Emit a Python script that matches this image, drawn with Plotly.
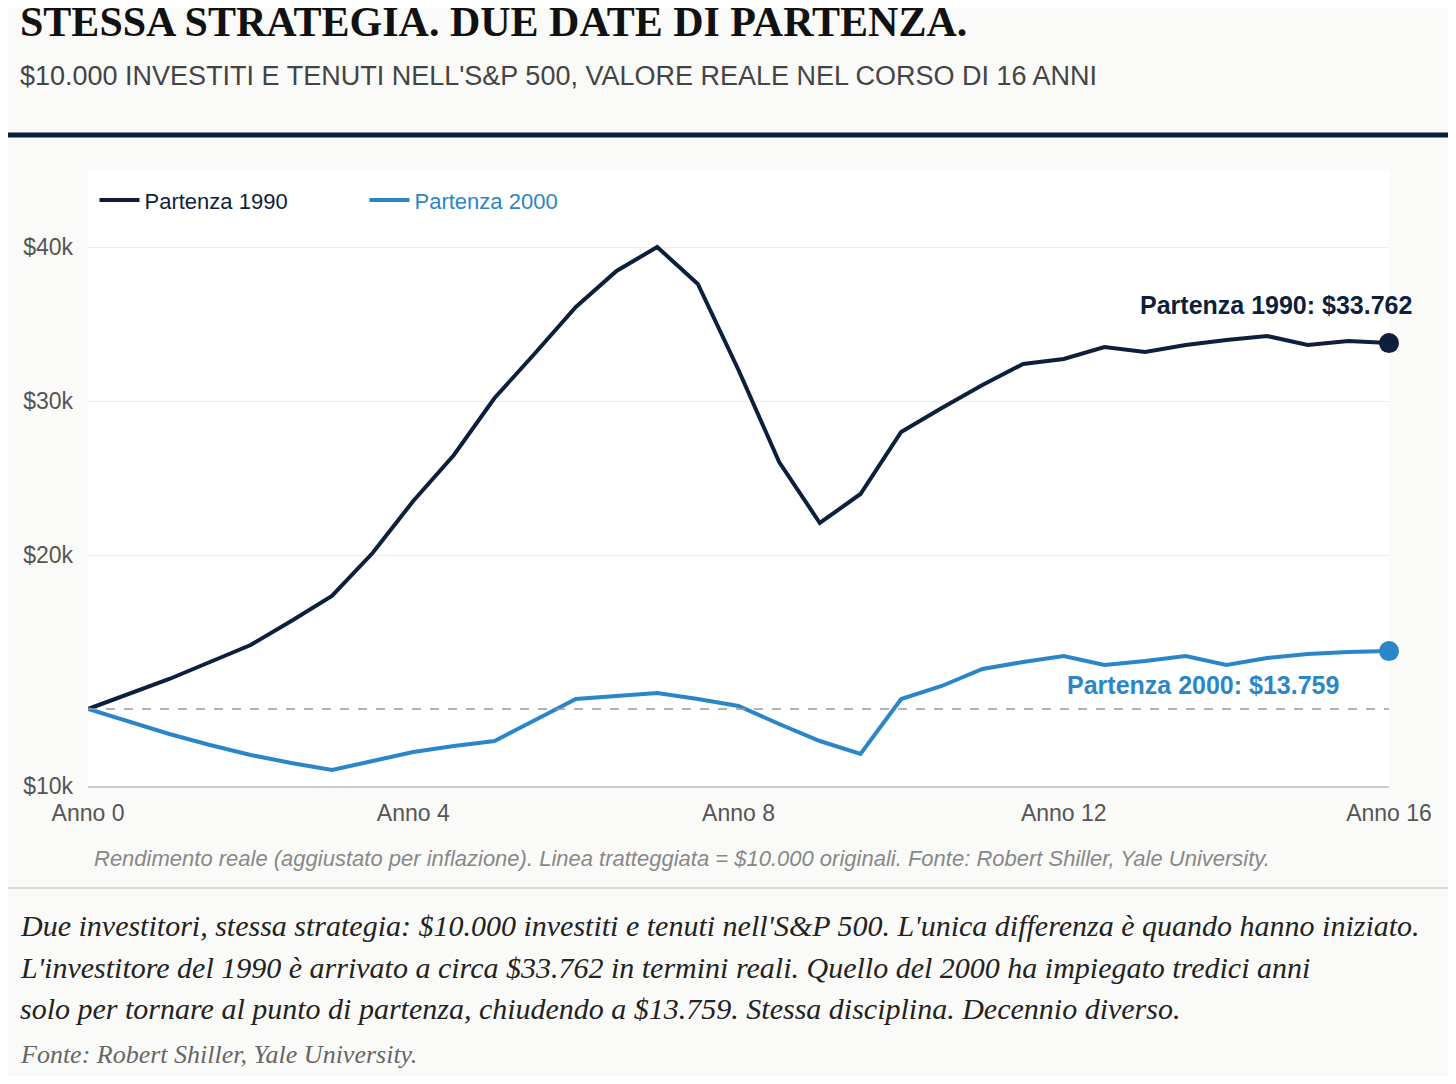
import plotly.graph_objects as go

years = [i / 2 for i in range(33)]
start_1990 = [10000, 10974, 11948, 13052, 14156, 15714, 17338, 20130, 23506, 26494,
              30195, 33117, 36104, 38442, 40000, 37597, 32013, 26039, 22078, 23961,
              27987, 29545, 31039, 32403, 32727, 33506, 33182, 33636, 33961, 34221,
              33636, 33896, 33762]
start_2000 = [10000, 9156, 8377, 7662, 7013, 6494, 6039, 6623, 7208, 7597,
              7922, 9286, 10649, 10844, 11039, 10649, 10195, 9026, 7922, 7078,
              10649, 11494, 12597, 13052, 13442, 12857, 13117, 13442, 12857, 13312,
              13571, 13701, 13759]
tick_vals = [5000, 20000, 30000, 40000]
tick_text = ["$10k", "$20k", "$30k", "$40k"]

NAVY = "#0d1f3c"
BLUE = "#2a86c8"
OFF = 8  # browser body margin
W, H = 1456 - 2 * OFF, 1084 - 2 * OFF
TOP, BOT = 170 - OFF, 786 - OFF
LEFT, RIGHT = 88 - OFF, 1389 - OFF


def py(p):
    # reference pixel row -> paper y
    return (BOT - (p - OFF)) / (BOT - TOP)


def px(p):
    return ((p - OFF) - LEFT) / (RIGHT - LEFT)


fig = go.Figure()
fig.add_trace(go.Scatter(x=years, y=start_1990, mode="lines", name="Partenza 1990",
                         line=dict(color=NAVY, width=4)))
fig.add_trace(go.Scatter(x=years, y=start_2000, mode="lines",
                         name=f"<span style='color:{BLUE}'>Partenza 2000</span>",
                         line=dict(color=BLUE, width=4)))
fig.add_trace(go.Scatter(x=[16], y=[start_1990[-1]], mode="markers", showlegend=False,
                         marker=dict(color=NAVY, size=20), cliponaxis=False))
fig.add_trace(go.Scatter(x=[16], y=[start_2000[-1]], mode="markers", showlegend=False,
                         marker=dict(color=BLUE, size=20), cliponaxis=False))

fig.add_hline(y=10000, line=dict(color="#999", width=1.5, dash="dash"))

shapes = [
    dict(type="rect", xref="paper", yref="paper", x0=px(0), x1=px(1456), y0=py(132), y1=py(0),
         fillcolor="#f4f4f0", line_width=0, layer="below"),
    dict(type="line", xref="paper", yref="paper", x0=px(0), x1=px(1456), y0=py(135), y1=py(135),
         line=dict(color=NAVY, width=5)),
    dict(type="line", xref="paper", yref="paper", x0=px(0), x1=px(1456), y0=py(888), y1=py(888),
         line=dict(color="#cccccc", width=1.5)),
]

annotations = [
    dict(text="<b>STESSA STRATEGIA. DUE DATE DI PARTENZA.</b>", x=px(18), y=py(22),
         font=dict(family="Liberation Serif", size=42, color="#111")),
    dict(text="$10.000 INVESTITI E TENUTI NELL'S&P 500, VALORE REALE NEL CORSO DI 16 ANNI",
         x=px(18), y=py(76), font=dict(family="Liberation Sans", size=27, color="#444")),
    dict(text="<i>Rendimento reale (aggiustato per inflazione). Linea tratteggiata = $10.000 originali. Fonte: Robert Shiller, Yale University.</i>",
         x=px(92), y=py(858), font=dict(family="Liberation Sans", size=22, color="#888")),
    dict(text="<i>Due investitori, stessa strategia: $10.000 investiti e tenuti nell'S&P 500. L'unica differenza è quando hanno iniziato.</i>",
         x=px(18), y=py(925), font=dict(family="Liberation Serif", size=30, color="#222")),
    dict(text="<i>L'investitore del 1990 è arrivato a circa $33.762 in termini reali. Quello del 2000 ha impiegato tredici anni</i>",
         x=px(18), y=py(967), font=dict(family="Liberation Serif", size=30, color="#222")),
    dict(text="<i>solo per tornare al punto di partenza, chiudendo a $13.759. Stessa disciplina. Decennio diverso.</i>",
         x=px(18), y=py(1008), font=dict(family="Liberation Serif", size=30, color="#222")),
    dict(text="<i>Fonte: Robert Shiller, Yale University.</i>",
         x=px(18), y=py(1054), font=dict(family="Liberation Serif", size=26, color="#666")),
]
for a in annotations:
    a.update(xref="paper", yref="paper", xanchor="left", yanchor="middle", showarrow=False)

annotations += [
    dict(text="<b>Partenza 1990: $33.762</b>", x=16, y=start_1990[-1], xref="x", yref="y",
         xanchor="right", yanchor="bottom", yshift=22, xshift=25, showarrow=False,
         font=dict(family="Liberation Sans", size=25, color=NAVY)),
    dict(text="<b>Partenza 2000: $13.759</b>", x=16, y=start_2000[-1], xref="x", yref="y",
         xanchor="right", yanchor="top", yshift=-18, xshift=-48, showarrow=False,
         font=dict(family="Liberation Sans", size=25, color=BLUE)),
]

fig.update_layout(
    width=W, height=H,
    margin=dict(l=LEFT, r=W - RIGHT, t=TOP, b=H - BOT),
    paper_bgcolor="#fafaf8", plot_bgcolor="#ffffff",
    font=dict(family="Liberation Sans", size=22, color="#555"),
    shapes=shapes, annotations=annotations,
    legend=dict(orientation="h", x=0.005, y=0.985, xanchor="left", yanchor="top",
                bgcolor="rgba(0,0,0,0)", font=dict(size=22, color=NAVY),
                itemwidth=40, entrywidth=215),
    xaxis=dict(range=[0, 16], tickvals=[0, 4, 8, 12, 16],
               ticktext=["Anno 0", "Anno 4", "Anno 8", "Anno 12", "Anno 16"],
               showgrid=False, zeroline=False, showline=True, linecolor="#ccc", linewidth=1.5,
               tickfont=dict(size=23, color="#555"), ticklabelstandoff=6),
    yaxis=dict(range=[5000, 45000], tickvals=tick_vals, ticktext=tick_text,
               showgrid=True, gridcolor="#eeeeee", zeroline=False,
               tickfont=dict(size=23, color="#555"), ticklabelstandoff=14),
)

fig.write_html("out.html")
